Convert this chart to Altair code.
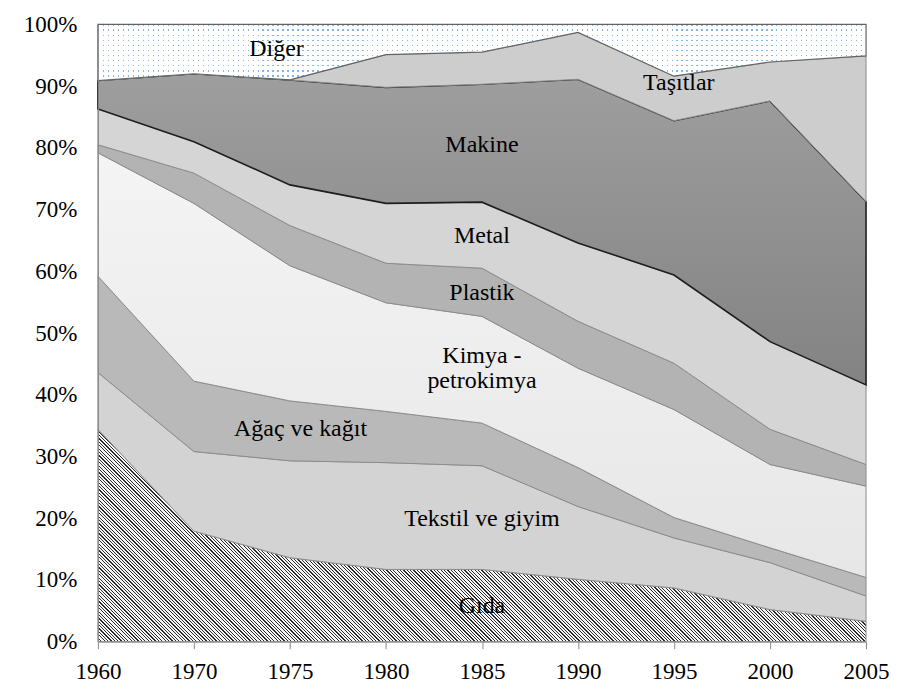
import altair as alt
import pandas as pd

# ---------------- data (shares in %) ----------------
YEARS = ["1960", "1970", "1975", "1980", "1985", "1990", "1995", "2000", "2005"]
SERIES = ["Gıda", "Tekstil ve giyim", "Ağaç ve kağıt", "Kimya - petrokimya",
          "Plastik", "Metal", "Makine", "Taşıtlar", "Diğer"]
GIDA = [34.4, 17.9, 13.6, 11.7, 11.7, 10.1, 8.7, 5.2, 3.3]
TEKSTIL = [9.2, 12.9, 15.7, 17.3, 16.8, 11.8, 8.1, 7.6, 4.1]
AGAC = [15.6, 11.4, 9.7, 8.3, 6.9, 6.3, 3.3, 2.4, 3.0]
KIMYA = [20.0, 28.8, 21.9, 17.6, 17.3, 16.1, 17.5, 13.5, 14.8]
PLASTIK = [1.3, 4.9, 6.5, 6.4, 7.8, 7.6, 7.5, 5.7, 3.5]
METAL = [5.8, 5.1, 6.6, 9.7, 10.7, 12.7, 14.3, 14.2, 12.9]
MAKINE = [4.6, 11.0, 17.0, 18.8, 19.1, 26.5, 25.0, 39.0, 29.7]
TASITLAR = [0.0, 0.0, 0.0, 5.3, 5.2, 7.6, 7.2, 6.3, 23.6]
DIGER = [9.1, 8.0, 9.0, 4.9, 4.5, 1.3, 8.4, 6.1, 5.1]
VALUES = [GIDA, TEKSTIL, AGAC, KIMYA, PLASTIK, METAL, MAKINE, TASITLAR, DIGER]

LABEL_TEXT = ["Diğer", "Taşıtlar", "Makine", "Metal", "Plastik",
              "Kimya -\npetrokimya", "Ağaç ve kağıt", "Tekstil ve giyim", "Gıda"]
LABEL_X = [1.86, 6.05, 4.0, 4.0, 4.0, 4.0, 2.11, 4.0, 4.0]
LABEL_Y = [94.9, 89.3, 79.4, 64.6, 55.4, 45.1, 33.3, 18.8, 4.6]

# ---------------- layout / style ----------------
W, H = 769, 618
FONT = "Liberation Serif"

rows = []
cum = [0.0] * len(YEARS)
for name, vals in zip(SERIES, VALUES):
    for i, v in enumerate(vals):
        rows.append({"idx": i, "series": name, "lo": round(cum[i], 3),
                     "hi": round(min(cum[i] + v, 100.0), 3)})
    cum = [c + v for c, v in zip(cum, vals)]
df = pd.DataFrame(rows)
labels = pd.DataFrame({"lx": LABEL_X, "ly": LABEL_Y, "txt": LABEL_TEXT})


def vgrad(top, bottom):
    return {"gradient": "linear", "x1": 0, "y1": 0, "x2": 0, "y2": 1,
            "stops": [{"offset": 0, "color": top}, {"offset": 1, "color": bottom}]}


def stripes(n, duty, c_on, c_off, x1, y1, x2, y2):
    st = []
    for k in range(n):
        a, b, c = k / n, (k + duty) / n, (k + 1) / n
        st += [{"offset": a, "color": c_on}, {"offset": b, "color": c_on},
               {"offset": b, "color": c_off}, {"offset": c, "color": c_off}]
    return {"gradient": "linear", "x1": x1, "y1": y1, "x2": x2, "y2": y2, "stops": st}


# diagonal hatch for Gıda (45 degree lines in pixel space)
g_h = max(GIDA) / 100 * H
r = g_h / W
s = (1 + r) / (1 + r * r)
n_hatch = round((W + g_h) / 3.4)
HATCH = stripes(n_hatch, 0.36, "#2a2a2a", "#f6f6f6", 0, 1, s, 1 - s * r)

# dotted pattern for Diğer (two crossed stripe layers)
d_low = min(100.0 - v for v in DIGER)
d_h = (100 - d_low) / 100 * H
DOT_COLS = stripes(round(W / 5), 0.25, "#86b6e4", "#ffffff", 0, 0, 1, 0)
DOT_ROWS = stripes(max(1, round(d_h / 5)), 0.25, "rgba(255,255,255,0)", "#ffffff", 0, 0, 0, 1)

FILLS = {
    "Gıda": HATCH,
    "Tekstil ve giyim": "#d3d3d3",
    "Ağaç ve kağıt": "#b9b9b9",
    "Kimya - petrokimya": vgrad("#f4f4f4", "#e7e7e7"),
    "Plastik": "#b3b3b3",
    "Metal": "#d5d5d5",
    "Makine": vgrad("#9e9e9e", "#838383"),
    "Taşıtlar": "#cdcdcd",
}

X_AXIS = alt.Axis(values=list(range(len(YEARS))),
                  labelExpr="[" + ",".join("'%s'" % y for y in YEARS) + "][datum.value]",
                  title=None, grid=False, ticks=True, tickSize=7, labelPadding=12,
                  tickColor="#8a8a8a", domainColor="#8a8a8a", labelFont=FONT,
                  labelFontSize=23, labelColor="#000000", labelFlush=False, zindex=1)
Y_AXIS = alt.Axis(values=list(range(0, 101, 10)), labelExpr="datum.value + '%'",
                  title=None, grid=False, ticks=False, tickSize=0, labelPadding=21,
                  domainColor="#8a8a8a", labelFont=FONT, labelFontSize=23,
                  labelColor="#000000", zindex=1)
X_SCALE = alt.Scale(domain=[0, len(YEARS) - 1], nice=False, zero=False)
Y_SCALE = alt.Scale(domain=[0, 100], nice=False)


def enc(chart):
    return chart.encode(x=alt.X("idx:Q", scale=X_SCALE, axis=X_AXIS),
                        y=alt.Y("hi:Q", scale=Y_SCALE, axis=Y_AXIS),
                        y2=alt.Y2("lo:Q"))


base = alt.Chart(df)
layers = []
for name in SERIES[:-1]:
    stroke = "#1e1e1e" if name == "Makine" else "#8c8c8c"
    sw = 1.6 if name == "Makine" else 1
    m = base.transform_filter(alt.datum.series == name).mark_area(
        fill=FILLS[name], stroke=stroke, strokeWidth=sw, interpolate="linear")
    layers.append(enc(m))

dig = base.transform_filter(alt.datum.series == "Diğer")
layers.append(enc(dig.mark_area(fill=DOT_COLS, strokeWidth=0)))
layers.append(enc(dig.mark_area(fill=DOT_ROWS, strokeWidth=0)))
layers.append(enc(dig.mark_area(fill="#ffffff", fillOpacity=0, stroke="#626262", strokeWidth=1.2)))

text = alt.Chart(labels).mark_text(font=FONT, fontSize=24, color="#000000", align="center",
                                   baseline="alphabetic", lineBreak="\n", lineHeight=25)
text = text.encode(x=alt.X("lx:Q", scale=X_SCALE, axis=X_AXIS),
                   y=alt.Y("ly:Q", scale=Y_SCALE, axis=Y_AXIS),
                   text="txt:N")
layers.append(text)

chart = alt.layer(*layers).properties(
    width=W, height=H,
    autosize=alt.AutoSizeParams(type="none"),
    padding={"left": 90, "top": 16, "right": 30, "bottom": 45},
    background="#ffffff",
).configure_view(strokeWidth=0)

chart.save("out.html", embed_options={"renderer": "svg", "actions": False})
